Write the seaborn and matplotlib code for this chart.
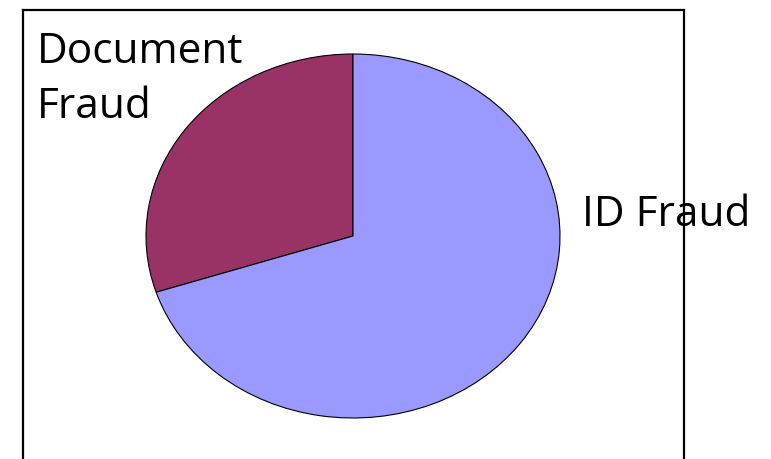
import matplotlib
matplotlib.use("Agg")
import matplotlib.pyplot as plt
import seaborn as sns

# ── Data ───────────────────────────────────────────────────
labels = ["Document Fraud", "ID Fraud"]
shares = [30, 70]
colors = ["#993366", "#9999FF"]

sns.set_style("white")
plt.rcParams["font.family"] = ["Open Sans", "DejaVu Sans"]

W, H = 771, 459
fig = plt.figure(figsize=(W / 100, H / 100), dpi=100)

def px_axes(x0, y0, x1, y1, **kw):
    # axes from pixel box (top-left origin)
    return fig.add_axes([x0 / W, 1 - y1 / H, (x1 - x0) / W, (y1 - y0) / H], **kw)

# ── Frame box (runs off bottom edge) ───────────────────────
box = px_axes(23, 10, 684, 520)
box.set_xticks([])
box.set_yticks([])
for s in box.spines.values():
    s.set_linewidth(1.6)
    s.set_color("black")

# ── Elliptical pie ─────────────────────────────────────────
ax = px_axes(146, 54, 560, 418)
ax.pie(shares, colors=colors, startangle=90, counterclock=True,
       wedgeprops={"edgecolor": "black", "linewidth": 0.8})
ax.set_aspect("auto")
ax.set_xlim(-1, 1)
ax.set_ylim(-1, 1)
ax.axis("off")

# ── Labels ─────────────────────────────────────────────────
fig.text(37 / W, 1 - 31 / H, "Document\nFraud", fontsize=30.5, color="black",
         ha="left", va="top", linespacing=1.42)
fig.text(582 / W, 1 - 215 / H, "ID Fraud", fontsize=30.5, color="black",
         ha="left", va="center")

fig.savefig("out.png", dpi=100)
